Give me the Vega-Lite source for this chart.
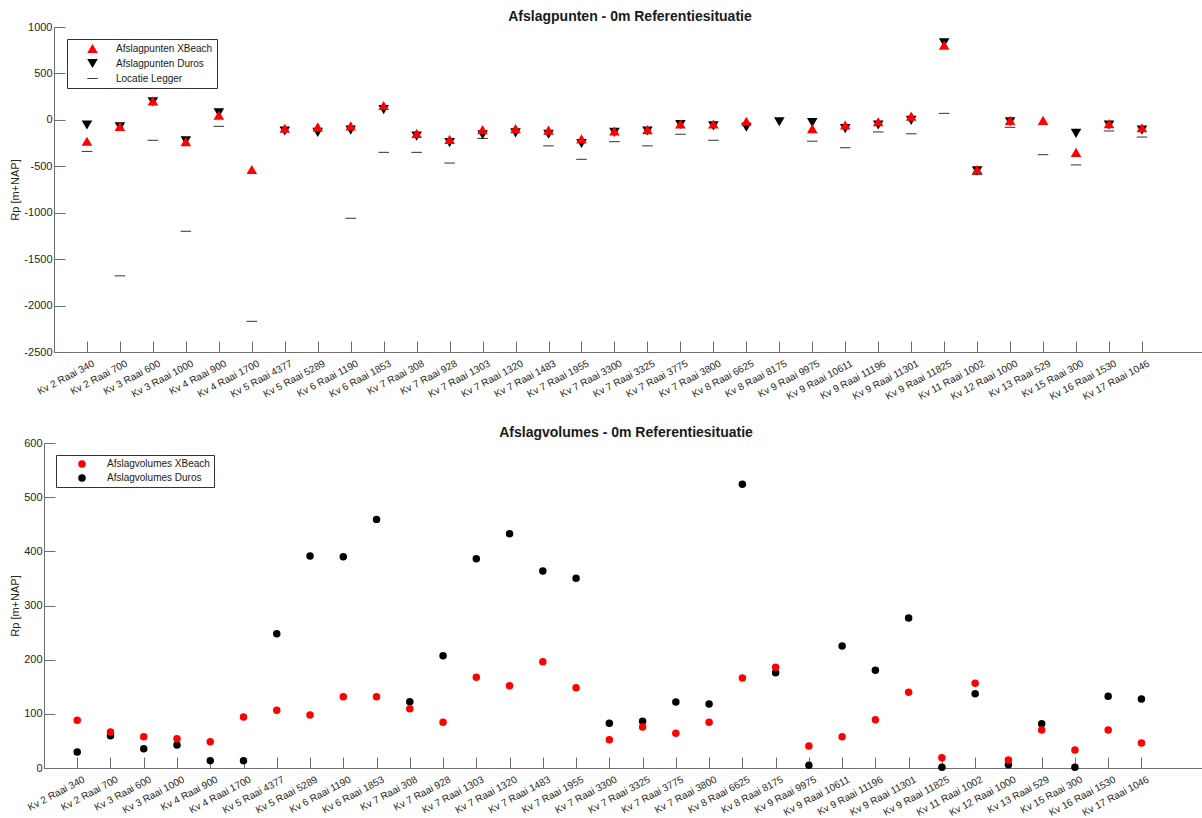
{
  "$schema": "https://vega.github.io/schema/vega-lite/v6.json",
  "background": "white",
  "padding": {"left": 9, "top": 10, "right": 0, "bottom": 0},
  "config": {
    "font": "Liberation Sans",
    "view": {"stroke": null},
    "axis": {
      "grid": false,
      "domainColor": "#6e6e6e",
      "tickColor": "#6e6e6e",
      "labelColor": "#262626",
      "titleColor": "#262626",
      "labelFont": "Liberation Sans",
      "titleFont": "Liberation Sans",
      "titleFontWeight": "normal",
      "tickSize": -11
    },
    "title": {"font": "Liberation Sans", "fontSize": 14, "fontWeight": "bold", "color": "#1a1a1a", "frame": "group", "offset": -3},
    "legend": {
      "orient": "none",
      "title": null,
      "strokeColor": "#333333",
      "fillColor": "white",
      "padding": 4,
      "labelFont": "Liberation Sans",
      "labelFontSize": 10,
      "labelColor": "#1a1a1a",
      "rowPadding": 4,
      "symbolStrokeWidth": 0
    }
  },
  "resolve": {
    "scale": {"color": "independent", "shape": "independent", "x": "independent", "y": "independent"},
    "legend": {"color": "independent", "shape": "independent"}
  },
  "concat": [
    {
      "width": 1158,
      "height": 325,
      "title": {"text": "Afslagpunten - 0m Referentiesituatie", "dx": 7},
      "data": {"values": [
        {"raai": "Kv 2 Raai 340", "Afslagpunten XBeach": -230, "Afslagpunten Duros": -55, "Locatie Legger": -340},
        {"raai": "Kv 2 Raai 700", "Afslagpunten XBeach": -70, "Afslagpunten Duros": -75, "Locatie Legger": -1680},
        {"raai": "Kv 3 Raai 600", "Afslagpunten XBeach": 205, "Afslagpunten Duros": 195, "Locatie Legger": -220},
        {"raai": "Kv 3 Raai 1000", "Afslagpunten XBeach": -235, "Afslagpunten Duros": -225, "Locatie Legger": -1200},
        {"raai": "Kv 4 Raai 900", "Afslagpunten XBeach": 50, "Afslagpunten Duros": 75, "Locatie Legger": -70},
        {"raai": "Kv 4 Raai 1700", "Afslagpunten XBeach": -535, "Afslagpunten Duros": null, "Locatie Legger": -2170},
        {"raai": "Kv 5 Raai 4377", "Afslagpunten XBeach": -90, "Afslagpunten Duros": -120, "Locatie Legger": null},
        {"raai": "Kv 5 Raai 5289", "Afslagpunten XBeach": -75, "Afslagpunten Duros": -135, "Locatie Legger": null},
        {"raai": "Kv 6 Raai 1190", "Afslagpunten XBeach": -65, "Afslagpunten Duros": -110, "Locatie Legger": -1060},
        {"raai": "Kv 6 Raai 1853", "Afslagpunten XBeach": 155, "Afslagpunten Duros": 110, "Locatie Legger": -350},
        {"raai": "Kv 7 Raai 308", "Afslagpunten XBeach": -145, "Afslagpunten Duros": -175, "Locatie Legger": -350},
        {"raai": "Kv 7 Raai 928", "Afslagpunten XBeach": -210, "Afslagpunten Duros": -245, "Locatie Legger": -465},
        {"raai": "Kv 7 Raai 1303", "Afslagpunten XBeach": -105, "Afslagpunten Duros": -160, "Locatie Legger": -200},
        {"raai": "Kv 7 Raai 1320", "Afslagpunten XBeach": -95, "Afslagpunten Duros": -140, "Locatie Legger": null},
        {"raai": "Kv 7 Raai 1483", "Afslagpunten XBeach": -110, "Afslagpunten Duros": -155, "Locatie Legger": -280},
        {"raai": "Kv 7 Raai 1955", "Afslagpunten XBeach": -205, "Afslagpunten Duros": -255, "Locatie Legger": -425},
        {"raai": "Kv 7 Raai 3300", "Afslagpunten XBeach": -120, "Afslagpunten Duros": -135, "Locatie Legger": -235},
        {"raai": "Kv 7 Raai 3325", "Afslagpunten XBeach": -105, "Afslagpunten Duros": -120, "Locatie Legger": -280},
        {"raai": "Kv 7 Raai 3775", "Afslagpunten XBeach": -45, "Afslagpunten Duros": -50, "Locatie Legger": -155},
        {"raai": "Kv 7 Raai 3800", "Afslagpunten XBeach": -45, "Afslagpunten Duros": -65, "Locatie Legger": -220},
        {"raai": "Kv 8 Raai 6625", "Afslagpunten XBeach": -15, "Afslagpunten Duros": -80, "Locatie Legger": null},
        {"raai": "Kv 8 Raai 8175", "Afslagpunten XBeach": null, "Afslagpunten Duros": -20, "Locatie Legger": null},
        {"raai": "Kv 9 Raai 9975", "Afslagpunten XBeach": -95, "Afslagpunten Duros": -30, "Locatie Legger": -230},
        {"raai": "Kv 9 Raai 10611", "Afslagpunten XBeach": -55, "Afslagpunten Duros": -95, "Locatie Legger": -300},
        {"raai": "Kv 9 Raai 11196", "Afslagpunten XBeach": -20, "Afslagpunten Duros": -55, "Locatie Legger": -130},
        {"raai": "Kv 9 Raai 11301", "Afslagpunten XBeach": 40, "Afslagpunten Duros": -5, "Locatie Legger": -150},
        {"raai": "Kv 9 Raai 11825", "Afslagpunten XBeach": 805, "Afslagpunten Duros": 830, "Locatie Legger": 70},
        {"raai": "Kv 11 Raai 1002", "Afslagpunten XBeach": -535, "Afslagpunten Duros": -550, "Locatie Legger": -590},
        {"raai": "Kv 12 Raai 1000", "Afslagpunten XBeach": -5, "Afslagpunten Duros": -20, "Locatie Legger": -80},
        {"raai": "Kv 13 Raai 529", "Afslagpunten XBeach": -5, "Afslagpunten Duros": null, "Locatie Legger": -375},
        {"raai": "Kv 15 Raai 300", "Afslagpunten XBeach": -350, "Afslagpunten Duros": -145, "Locatie Legger": -485},
        {"raai": "Kv 16 Raai 1530", "Afslagpunten XBeach": -40, "Afslagpunten Duros": -55, "Locatie Legger": -120},
        {"raai": "Kv 17 Raai 1046", "Afslagpunten XBeach": -85, "Afslagpunten Duros": -110, "Locatie Legger": -185}
      ]},
      "transform": [
        {"fold": ["Locatie Legger", "Afslagpunten Duros", "Afslagpunten XBeach"], "as": ["serie", "rp"]},
        {"filter": "datum.rp != null"}
      ],
      "mark": {"type": "point", "filled": true, "opacity": 1, "size": 112, "strokeWidth": 0},
      "encoding": {
        "x": {
          "field": "raai", "type": "nominal",
          "scale": {"type": "point", "padding": 0.91, "align": 0.549, "range": [10, 1158],
            "domain": ["Kv 2 Raai 340", "Kv 2 Raai 700", "Kv 3 Raai 600", "Kv 3 Raai 1000", "Kv 4 Raai 900", "Kv 4 Raai 1700", "Kv 5 Raai 4377", "Kv 5 Raai 5289", "Kv 6 Raai 1190", "Kv 6 Raai 1853", "Kv 7 Raai 308", "Kv 7 Raai 928", "Kv 7 Raai 1303", "Kv 7 Raai 1320", "Kv 7 Raai 1483", "Kv 7 Raai 1955", "Kv 7 Raai 3300", "Kv 7 Raai 3325", "Kv 7 Raai 3775", "Kv 7 Raai 3800", "Kv 8 Raai 6625", "Kv 8 Raai 8175", "Kv 9 Raai 9975", "Kv 9 Raai 10611", "Kv 9 Raai 11196", "Kv 9 Raai 11301", "Kv 9 Raai 11825", "Kv 11 Raai 1002", "Kv 12 Raai 1000", "Kv 13 Raai 529", "Kv 15 Raai 300", "Kv 16 Raai 1530", "Kv 17 Raai 1046", ""]},
          "axis": {"title": null, "labelAngle": -28, "labelAlign": "right", "labelBaseline": "top", "labelFontSize": 10, "labelPadding": 17, "labelOffset": 4,
            "values": ["Kv 2 Raai 340", "Kv 2 Raai 700", "Kv 3 Raai 600", "Kv 3 Raai 1000", "Kv 4 Raai 900", "Kv 4 Raai 1700", "Kv 5 Raai 4377", "Kv 5 Raai 5289", "Kv 6 Raai 1190", "Kv 6 Raai 1853", "Kv 7 Raai 308", "Kv 7 Raai 928", "Kv 7 Raai 1303", "Kv 7 Raai 1320", "Kv 7 Raai 1483", "Kv 7 Raai 1955", "Kv 7 Raai 3300", "Kv 7 Raai 3325", "Kv 7 Raai 3775", "Kv 7 Raai 3800", "Kv 8 Raai 6625", "Kv 8 Raai 8175", "Kv 9 Raai 9975", "Kv 9 Raai 10611", "Kv 9 Raai 11196", "Kv 9 Raai 11301", "Kv 9 Raai 11825", "Kv 11 Raai 1002", "Kv 12 Raai 1000", "Kv 13 Raai 529", "Kv 15 Raai 300", "Kv 16 Raai 1530", "Kv 17 Raai 1046"]}
        },
        "y": {
          "field": "rp", "type": "quantitative",
          "scale": {"domain": [-2500, 1000], "nice": false, "zero": false},
          "axis": {"title": "Rp [m+NAP]", "offset": -10, "values": [-2500, -2000, -1500, -1000, -500, 0, 500, 1000], "labelExpr": "'' + datum.value", "labelFontSize": 11, "labelPadding": 13, "titleFontSize": 11, "titleX": -34}
        },
        "color": {
          "field": "serie", "type": "nominal",
          "scale": {"domain": ["Afslagpunten XBeach", "Afslagpunten Duros", "Locatie Legger"], "range": ["#ff0000", "#000000", "#3c3c3c"]},
          "legend": {"legendX": 23, "legendY": 12, "symbolSize": 112, "symbolOffset": 16, "labelOffset": 18}
        },
        "shape": {
          "field": "serie", "type": "nominal",
          "scale": {"domain": ["Afslagpunten XBeach", "Afslagpunten Duros", "Locatie Legger"], "range": ["triangle-up", "triangle-down", "M-1,-0.1H1V0.1H-1Z"]},
          "legend": {"legendX": 23, "legendY": 12, "symbolSize": 112, "symbolOffset": 16, "labelOffset": 18}
        }
      }
    },
    {
      "width": 1158,
      "height": 325,
      "title": {"text": "Afslagvolumes - 0m Referentiesituatie", "dx": 3},
      "data": {"values": [
        {"raai": "Kv 2 Raai 340", "Afslagvolumes XBeach": 88, "Afslagvolumes Duros": 29.5},
        {"raai": "Kv 2 Raai 700", "Afslagvolumes XBeach": 66.5, "Afslagvolumes Duros": 59.7},
        {"raai": "Kv 3 Raai 600", "Afslagvolumes XBeach": 57.8, "Afslagvolumes Duros": 35.7},
        {"raai": "Kv 3 Raai 1000", "Afslagvolumes XBeach": 54, "Afslagvolumes Duros": 42.5},
        {"raai": "Kv 4 Raai 900", "Afslagvolumes XBeach": 48.6, "Afslagvolumes Duros": 13.5},
        {"raai": "Kv 4 Raai 1700", "Afslagvolumes XBeach": 94, "Afslagvolumes Duros": 13.5},
        {"raai": "Kv 5 Raai 4377", "Afslagvolumes XBeach": 106.5, "Afslagvolumes Duros": 248},
        {"raai": "Kv 5 Raai 5289", "Afslagvolumes XBeach": 97.8, "Afslagvolumes Duros": 391.4},
        {"raai": "Kv 6 Raai 1190", "Afslagvolumes XBeach": 131.7, "Afslagvolumes Duros": 390},
        {"raai": "Kv 6 Raai 1853", "Afslagvolumes XBeach": 131.7, "Afslagvolumes Duros": 459},
        {"raai": "Kv 7 Raai 308", "Afslagvolumes XBeach": 109.5, "Afslagvolumes Duros": 122.5},
        {"raai": "Kv 7 Raai 928", "Afslagvolumes XBeach": 84.3, "Afslagvolumes Duros": 207.4},
        {"raai": "Kv 7 Raai 1303", "Afslagvolumes XBeach": 167.4, "Afslagvolumes Duros": 386.5},
        {"raai": "Kv 7 Raai 1320", "Afslagvolumes XBeach": 152, "Afslagvolumes Duros": 432.6},
        {"raai": "Kv 7 Raai 1483", "Afslagvolumes XBeach": 196.3, "Afslagvolumes Duros": 363.7},
        {"raai": "Kv 7 Raai 1955", "Afslagvolumes XBeach": 148.3, "Afslagvolumes Duros": 350.2},
        {"raai": "Kv 7 Raai 3300", "Afslagvolumes XBeach": 52.3, "Afslagvolumes Duros": 82.5},
        {"raai": "Kv 7 Raai 3325", "Afslagvolumes XBeach": 75.7, "Afslagvolumes Duros": 86.2},
        {"raai": "Kv 7 Raai 3775", "Afslagvolumes XBeach": 64, "Afslagvolumes Duros": 121.8},
        {"raai": "Kv 7 Raai 3800", "Afslagvolumes XBeach": 84.3, "Afslagvolumes Duros": 118.2},
        {"raai": "Kv 8 Raai 6625", "Afslagvolumes XBeach": 166.2, "Afslagvolumes Duros": 523.7},
        {"raai": "Kv 8 Raai 8175", "Afslagvolumes XBeach": 185.9, "Afslagvolumes Duros": 176},
        {"raai": "Kv 9 Raai 9975", "Afslagvolumes XBeach": 40.6, "Afslagvolumes Duros": 4.9},
        {"raai": "Kv 9 Raai 10611", "Afslagvolumes XBeach": 57.8, "Afslagvolumes Duros": 225.2},
        {"raai": "Kv 9 Raai 11196", "Afslagvolumes XBeach": 89.2, "Afslagvolumes Duros": 180.3},
        {"raai": "Kv 9 Raai 11301", "Afslagvolumes XBeach": 139.7, "Afslagvolumes Duros": 277},
        {"raai": "Kv 9 Raai 11825", "Afslagvolumes XBeach": 19, "Afslagvolumes Duros": 1.2},
        {"raai": "Kv 11 Raai 1002", "Afslagvolumes XBeach": 156.3, "Afslagvolumes Duros": 137.2},
        {"raai": "Kv 12 Raai 1000", "Afslagvolumes XBeach": 14.8, "Afslagvolumes Duros": 6.2},
        {"raai": "Kv 13 Raai 529", "Afslagvolumes XBeach": 70.2, "Afslagvolumes Duros": 81.8},
        {"raai": "Kv 15 Raai 300", "Afslagvolumes XBeach": 33.2, "Afslagvolumes Duros": 1.2},
        {"raai": "Kv 16 Raai 1530", "Afslagvolumes XBeach": 70.2, "Afslagvolumes Duros": 132.3},
        {"raai": "Kv 17 Raai 1046", "Afslagvolumes XBeach": 46.2, "Afslagvolumes Duros": 127.4}
      ]},
      "transform": [
        {"fold": ["Afslagvolumes Duros", "Afslagvolumes XBeach"], "as": ["serie", "volume"]},
        {"filter": "datum.volume != null"}
      ],
      "mark": {"type": "point", "filled": true, "opacity": 1, "size": 56, "shape": "circle", "strokeWidth": 0},
      "encoding": {
        "x": {
          "field": "raai", "type": "nominal",
          "scale": {"type": "point", "padding": 0.91, "align": 0.549,
            "domain": ["Kv 2 Raai 340", "Kv 2 Raai 700", "Kv 3 Raai 600", "Kv 3 Raai 1000", "Kv 4 Raai 900", "Kv 4 Raai 1700", "Kv 5 Raai 4377", "Kv 5 Raai 5289", "Kv 6 Raai 1190", "Kv 6 Raai 1853", "Kv 7 Raai 308", "Kv 7 Raai 928", "Kv 7 Raai 1303", "Kv 7 Raai 1320", "Kv 7 Raai 1483", "Kv 7 Raai 1955", "Kv 7 Raai 3300", "Kv 7 Raai 3325", "Kv 7 Raai 3775", "Kv 7 Raai 3800", "Kv 8 Raai 6625", "Kv 8 Raai 8175", "Kv 9 Raai 9975", "Kv 9 Raai 10611", "Kv 9 Raai 11196", "Kv 9 Raai 11301", "Kv 9 Raai 11825", "Kv 11 Raai 1002", "Kv 12 Raai 1000", "Kv 13 Raai 529", "Kv 15 Raai 300", "Kv 16 Raai 1530", "Kv 17 Raai 1046", ""]},
          "axis": {"title": null, "labelAngle": -28, "labelAlign": "right", "labelBaseline": "top", "labelFontSize": 10, "labelPadding": 17, "labelOffset": 4,
            "values": ["Kv 2 Raai 340", "Kv 2 Raai 700", "Kv 3 Raai 600", "Kv 3 Raai 1000", "Kv 4 Raai 900", "Kv 4 Raai 1700", "Kv 5 Raai 4377", "Kv 5 Raai 5289", "Kv 6 Raai 1190", "Kv 6 Raai 1853", "Kv 7 Raai 308", "Kv 7 Raai 928", "Kv 7 Raai 1303", "Kv 7 Raai 1320", "Kv 7 Raai 1483", "Kv 7 Raai 1955", "Kv 7 Raai 3300", "Kv 7 Raai 3325", "Kv 7 Raai 3775", "Kv 7 Raai 3800", "Kv 8 Raai 6625", "Kv 8 Raai 8175", "Kv 9 Raai 9975", "Kv 9 Raai 10611", "Kv 9 Raai 11196", "Kv 9 Raai 11301", "Kv 9 Raai 11825", "Kv 11 Raai 1002", "Kv 12 Raai 1000", "Kv 13 Raai 529", "Kv 15 Raai 300", "Kv 16 Raai 1530", "Kv 17 Raai 1046"]}
        },
        "y": {
          "field": "volume", "type": "quantitative",
          "scale": {"domain": [0, 600], "nice": false},
          "axis": {"title": "Rp [m+NAP]", "values": [0, 100, 200, 300, 400, 500, 600], "labelExpr": "'' + datum.value", "labelFontSize": 11, "labelPadding": 13, "titleFontSize": 11, "titleX": -24}
        },
        "color": {
          "field": "serie", "type": "nominal",
          "scale": {"domain": ["Afslagvolumes XBeach", "Afslagvolumes Duros"], "range": ["#ff0000", "#000000"]},
          "legend": {"legendX": 12, "legendY": 12, "symbolType": "circle", "symbolSize": 56, "symbolOffset": 17, "labelOffset": 20}
        }
      }
    }
  ],
  "columns": 1,
  "spacing": 24
}
